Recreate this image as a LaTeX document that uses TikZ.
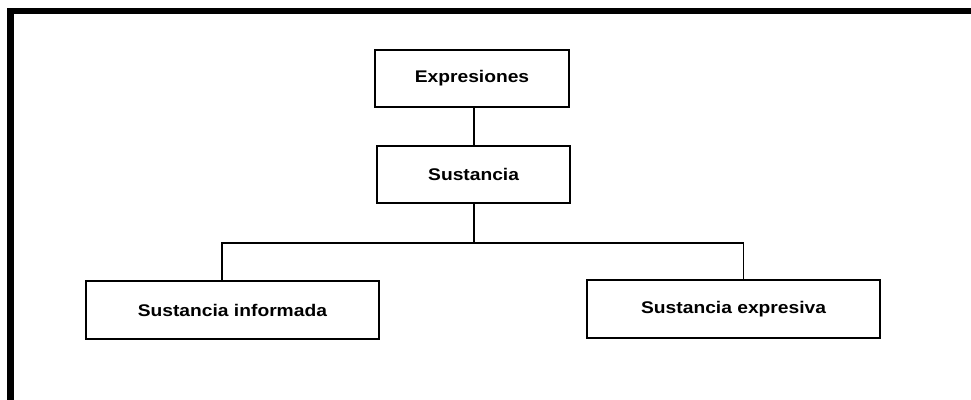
\documentclass[tikz,border=0pt]{standalone}
\usepackage{fontspec}
\setmainfont{Liberation Sans}[FakeStretch=1.14]
\usepackage{tikz}
\usetikzlibrary{calc}
\tikzset{boite/.style={draw,line width=1.4pt,inner sep=0pt,font=\fontsize{12}{14}\selectfont\bfseries,align=center},
	liaison/.style={line width=1pt}}

\begin{document}
\begin{tikzpicture}
	\def\largeur{24.275}
	\def\hauteur{10}
\useasboundingbox (0,0) rectangle (\largeur,-\hauteur);
\clip (0,0) rectangle (\largeur,-\hauteur); % Coupe le cadre a droite et en bas

%Cadre
\draw [line width=4.7pt] (0.26,-0.275) rectangle (\largeur+1,-\hauteur-1);

%Boites
\node [boite,minimum width=4.85cm,minimum height=1.425cm] (expr) at (11.8,-1.96) {Expresiones};
\node [boite,minimum width=4.825cm,minimum height=1.425cm] (sust) at (11.84,-4.36) {Sustancia};
\node [boite,minimum width=7.325cm,minimum height=1.45cm] (inf) at (5.81,-7.75) {Sustancia informada};
\node [boite,minimum width=7.325cm,minimum height=1.45cm] (expv) at (18.34,-7.73) {Sustancia expresiva};

%Liaisons
\coordinate (bar) at (11.85,-6.075);
\draw [liaison] (expr.south -| bar) -- (sust.north -| bar);
\draw [liaison] (sust.south -| bar) -- (bar);
\draw [liaison] ([xshift=-0.26cm]inf.north) |- (bar) -| ([xshift=0.24cm]expv.north);

\end{tikzpicture}
\end{document}
